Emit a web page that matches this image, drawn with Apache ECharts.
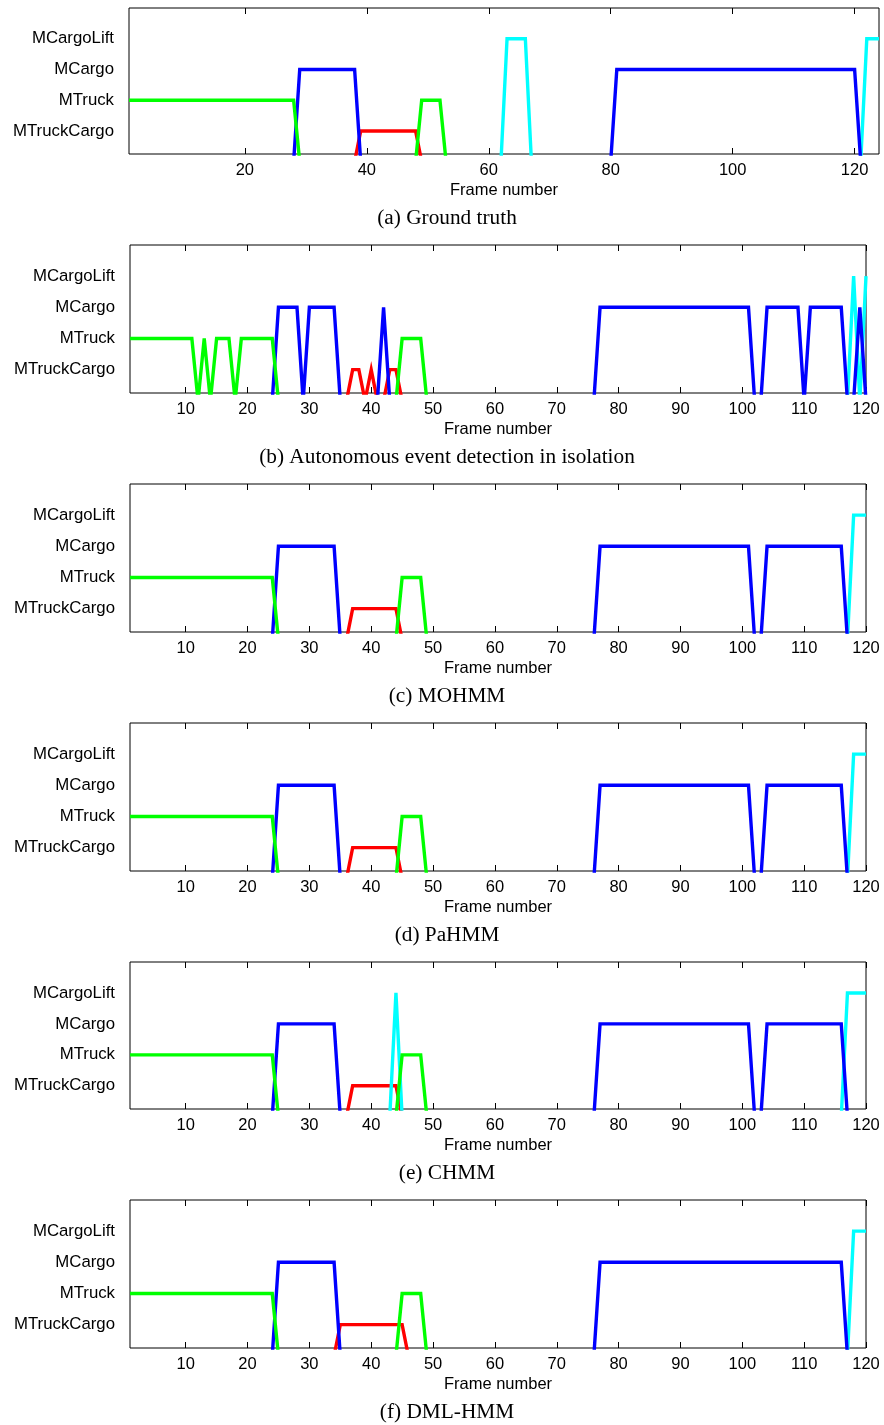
<!DOCTYPE html>
<html>
<head>
<meta charset="utf-8">
<script src="https://cdn.jsdelivr.net/npm/echarts@6/dist/echarts.min.js"></script>
<style>
  html, body { margin: 0; padding: 0; background: #fff; }
  #chart { width: 884px; height: 1425px; }
</style>
</head>
<body>
<div id="chart"></div>
<script>
// Event levels on the y axis (1..4); 0 means the event is not active.
const stateNames = ['MTruckCargo', 'MTruck', 'MCargo', 'MCargoLift'];

const captions = [
  '(a) Ground truth',
  '(b) Autonomous event detection in isolation',
  '(c) MOHMM',
  '(d) PaHMM',
  '(e) CHMM',
  '(f) DML-HMM'
];

const frameRanges = [[1, 124], [1, 120], [1, 120], [1, 120], [1, 120], [1, 120]];
const ticksTruth = [20, 40, 60, 80, 100, 120];
const ticksModels = [10, 20, 30, 40, 50, 60, 70, 80, 90, 100, 110, 120];

// Each series: [frame, level] vertices of the step trace.
// (a) Ground truth
const truthTruckCargo = [[1, 0], [38, 0], [39, 1], [48, 1], [49, 0], [124, 0]];
const truthTruck = [[1, 2], [28, 2], [29, 0], [48, 0], [49, 2], [52, 2], [53, 0], [124, 0]];
const truthCargo = [[1, 0], [28, 0], [29, 3], [38, 3], [39, 0], [80, 0], [81, 3], [120, 3], [121, 0], [124, 0]];
const truthCargoLift = [[1, 0], [62, 0], [63, 4], [66, 4], [67, 0], [121, 0], [122, 4], [124, 4]];

// (b) Autonomous event detection in isolation
const isoTruckCargo = [[1, 0], [36, 0], [37, 1], [38, 1], [39, 0], [40, 1], [41, 0], [42, 0], [43, 1], [44, 1], [45, 0], [120, 0]];
const isoTruck = [[1, 2], [11, 2], [12, 0], [13, 2], [14, 0], [15, 2], [17, 2], [18, 0], [19, 2], [24, 2], [25, 0], [44, 0], [45, 2], [48, 2], [49, 0], [120, 0]];
const isoCargo = [[1, 0], [24, 0], [25, 3], [28, 3], [29, 0], [30, 3], [34, 3], [35, 0], [41, 0], [42, 3], [43, 0], [76, 0], [77, 3], [101, 3], [102, 0], [103, 0], [104, 3], [109, 3], [110, 0], [111, 3], [116, 3], [117, 0], [118, 0], [119, 3], [120, 0]];
const isoCargoLift = [[1, 0], [117, 0], [118, 4], [119, 0], [120, 4]];

// (c) MOHMM
const mohmmTruckCargo = [[1, 0], [36, 0], [37, 1], [44, 1], [45, 0], [120, 0]];
const mohmmTruck = [[1, 2], [24, 2], [25, 0], [44, 0], [45, 2], [48, 2], [49, 0], [120, 0]];
const mohmmCargo = [[1, 0], [24, 0], [25, 3], [34, 3], [35, 0], [76, 0], [77, 3], [101, 3], [102, 0], [103, 0], [104, 3], [116, 3], [117, 0], [120, 0]];
const mohmmCargoLift = [[1, 0], [117, 0], [118, 4], [120, 4]];

// (d) PaHMM
const pahmmTruckCargo = [[1, 0], [36, 0], [37, 1], [44, 1], [45, 0], [120, 0]];
const pahmmTruck = [[1, 2], [24, 2], [25, 0], [44, 0], [45, 2], [48, 2], [49, 0], [120, 0]];
const pahmmCargo = [[1, 0], [24, 0], [25, 3], [34, 3], [35, 0], [76, 0], [77, 3], [101, 3], [102, 0], [103, 0], [104, 3], [116, 3], [117, 0], [120, 0]];
const pahmmCargoLift = [[1, 0], [117, 0], [118, 4], [120, 4]];

// (e) CHMM
const chmmTruckCargo = [[1, 0], [36, 0], [37, 1], [44, 1], [45, 0], [120, 0]];
const chmmTruck = [[1, 2], [24, 2], [25, 0], [44, 0], [45, 2], [48, 2], [49, 0], [120, 0]];
const chmmCargo = [[1, 0], [24, 0], [25, 3], [34, 3], [35, 0], [76, 0], [77, 3], [101, 3], [102, 0], [103, 0], [104, 3], [116, 3], [117, 0], [120, 0]];
const chmmCargoLift = [[1, 0], [43, 0], [44, 4], [45, 0], [116, 0], [117, 4], [120, 4]];

// (f) DML-HMM
const dmlTruckCargo = [[1, 0], [34, 0], [35, 1], [45, 1], [46, 0], [120, 0]];
const dmlTruck = [[1, 2], [24, 2], [25, 0], [44, 0], [45, 2], [48, 2], [49, 0], [120, 0]];
const dmlCargo = [[1, 0], [24, 0], [25, 3], [34, 3], [35, 0], [76, 0], [77, 3], [116, 3], [117, 0], [120, 0]];
const dmlCargoLift = [[1, 0], [117, 0], [118, 4], [120, 4]];

const panels = [
  { truckCargo: truthTruckCargo, truck: truthTruck, cargo: truthCargo, cargoLift: truthCargoLift },
  { truckCargo: isoTruckCargo, truck: isoTruck, cargo: isoCargo, cargoLift: isoCargoLift },
  { truckCargo: mohmmTruckCargo, truck: mohmmTruck, cargo: mohmmCargo, cargoLift: mohmmCargoLift },
  { truckCargo: pahmmTruckCargo, truck: pahmmTruck, cargo: pahmmCargo, cargoLift: pahmmCargoLift },
  { truckCargo: chmmTruckCargo, truck: chmmTruck, cargo: chmmCargo, cargoLift: chmmCargoLift },
  { truckCargo: dmlTruckCargo, truck: dmlTruck, cargo: dmlCargo, cargoLift: dmlCargoLift }
];

// ---- layout ----
const gridTops = [8, 245, 484, 723, 962, 1200];
const gridHeights = [146, 148, 148, 148, 147, 148];
const sans = 'Liberation Sans, Arial, Helvetica, sans-serif';
const serif = 'Liberation Serif, Times New Roman, serif';
const labelSize = 16.5;

const colors = { truckCargo: '#ff0000', truck: '#00ff00', cargo: '#0000ff', cargoLift: '#00ffff' };
const drawOrder = ['truckCargo', 'cargoLift', 'cargo', 'truck'];

const grids = [], xAxes = [], topAxes = [], yAxes = [], series = [], graphics = [];

panels.forEach((p, i) => {
  const isTruth = i === 0;
  const left = isTruth ? 129 : 130;
  const width = isTruth ? 750 : 736;
  const ticks = isTruth ? ticksTruth : ticksModels;
  grids.push({
    left: left, top: gridTops[i], width: width, height: gridHeights[i],
    show: true, borderColor: '#000', borderWidth: 1, backgroundColor: 'transparent',
    containLabel: false
  });
  xAxes.push({
    type: 'value', gridIndex: i, position: 'bottom',
    min: frameRanges[i][0], max: frameRanges[i][1],
    name: 'Frame number', nameLocation: 'middle', nameGap: 28,
    nameTextStyle: { fontFamily: sans, fontSize: labelSize, color: '#000' },
    axisLine: { show: false },
    axisTick: { show: true, inside: true, length: 6, customValues: ticks, lineStyle: { color: '#000', width: 1 } },
    axisLabel: { show: true, customValues: ticks, margin: 8, fontFamily: sans, fontSize: labelSize, color: '#000' },
    splitLine: { show: false }
  });
  topAxes.push({
    type: 'value', gridIndex: i, position: 'top',
    min: frameRanges[i][0], max: frameRanges[i][1],
    axisLine: { show: false },
    axisTick: { show: true, inside: true, length: 6, customValues: ticks, lineStyle: { color: '#000', width: 1 } },
    axisLabel: { show: false },
    splitLine: { show: false }
  });
  yAxes.push({
    type: 'value', gridIndex: i, min: 0.25, max: 5,
    axisLine: { show: false },
    axisTick: { show: false },
    axisLabel: {
      show: true, customValues: [1, 2, 3, 4], margin: 15,
      fontFamily: sans, fontSize: 16.8, color: '#000',
      formatter: v => stateNames[Math.round(v) - 1] || ''
    },
    splitLine: { show: false }
  });
  drawOrder.forEach(key => {
    series.push({
      type: 'line', xAxisIndex: i, yAxisIndex: i,
      data: p[key], showSymbol: false, symbol: 'none',
      clip: true, animation: false, silent: true,
      lineStyle: { color: colors[key], width: 3.4, join: 'miter' }
    });
  });
  graphics.push({
    type: 'text', x: 447, y: gridTops[i] + gridHeights[i] + 64,
    style: {
      text: captions[i], fontFamily: serif, fontSize: 21.3, fill: '#000',
      textAlign: 'center', textVerticalAlign: 'middle'
    }
  });
});

const chart = echarts.init(document.getElementById('chart'), null, { renderer: 'canvas' });
chart.setOption({
  backgroundColor: '#fff',
  animation: false,
  grid: grids,
  xAxis: xAxes.concat(topAxes),
  yAxis: yAxes,
  series: series,
  graphic: graphics
});
</script>
</body>
</html>
